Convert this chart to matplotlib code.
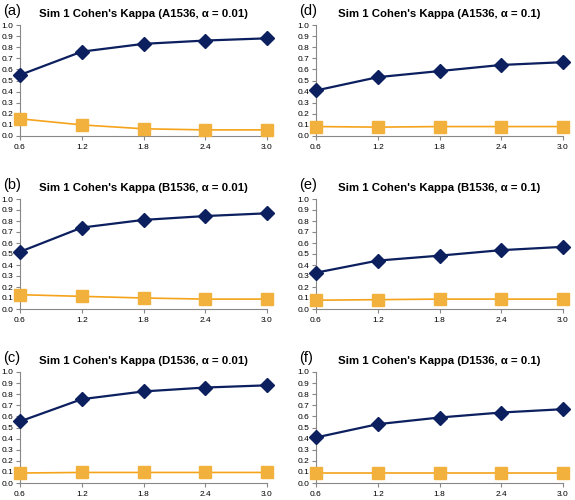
import matplotlib
matplotlib.use('Agg')
import matplotlib.pyplot as plt
import numpy as np

# x categories
xVals = [0.6, 1.2, 1.8, 2.4, 3.0]
xLabels = ['0.6', '1.2', '1.8', '2.4', '3.0']
yTicks = [0.0, 0.1, 0.2, 0.3, 0.4, 0.5, 0.6, 0.7, 0.8, 0.9, 1.0]

# series
blueA = [0.55, 0.76, 0.83, 0.86, 0.88]
orangeA = [0.155, 0.10, 0.065, 0.055, 0.055]
blueB = [0.52, 0.74, 0.81, 0.845, 0.87]
orangeB = [0.13, 0.115, 0.10, 0.09, 0.09]
blueC = [0.555, 0.755, 0.825, 0.86, 0.88]
orangeC = [0.09, 0.095, 0.095, 0.095, 0.095]
blueD = [0.41, 0.53, 0.585, 0.64, 0.665]
orangeD = [0.085, 0.08, 0.085, 0.085, 0.085]
blueE = [0.33, 0.44, 0.485, 0.535, 0.565]
orangeE = [0.08, 0.085, 0.09, 0.09, 0.09]
blueF = [0.41, 0.53, 0.59, 0.635, 0.665]
orangeF = [0.09, 0.09, 0.09, 0.09, 0.09]

panelLabels = ['(a)', '(b)', '(c)', '(d)', '(e)', '(f)']
titles = ["Sim 1 Cohen's Kappa (A1536, α = 0.01)",
          "Sim 1 Cohen's Kappa (B1536, α = 0.01)",
          "Sim 1 Cohen's Kappa (D1536, α = 0.01)",
          "Sim 1 Cohen's Kappa (A1536, α = 0.1)",
          "Sim 1 Cohen's Kappa (B1536, α = 0.1)",
          "Sim 1 Cohen's Kappa (D1536, α = 0.1)"]
blues = [blueA, blueB, blueC, blueD, blueE, blueF]
oranges = [orangeA, orangeB, orangeC, orangeD, orangeE, orangeF]

plt.rcParams['font.family'] = ['Liberation Sans', 'DejaVu Sans']

fig = plt.figure(figsize=(5.75, 5.0), dpi=100)

colLeft = [20 / 575, 316 / 575]
axW = 247 / 575
rowTop = [25, 199, 372]
rowBot = [136, 309, 483]

navy = '#0c1f5e'
orangeLine = '#f5a31a'
orangeMark = '#f2b13c'

for i in range(6):
    col = i // 3
    row = i % 3
    y0 = 1 - rowBot[row] / 500
    h = (rowBot[row] - rowTop[row]) / 500
    ax = fig.add_axes([colLeft[col], y0, axW, h])
    ax.plot(xVals, oranges[i], color=orangeLine, lw=1.2, marker='s', ms=8,
            mfc=orangeMark, mec=orangeMark, clip_on=False, zorder=3)
    ax.plot(xVals, blues[i], color=navy, lw=1.6, marker='D', ms=7,
            mfc=navy, mec=navy, clip_on=False, zorder=4)
    ax.set_xlim(0.6, 3.0)
    ax.set_ylim(0, 1.0)
    ax.set_xticks(xVals)
    ax.set_xticklabels(xLabels)
    ax.set_yticks(yTicks)
    ax.set_yticklabels(['%.1f' % v for v in yTicks])
    ax.tick_params(labelsize=6, length=3, width=0.8, color='#888888', pad=2)
    ax.tick_params(axis='x', pad=3)
    for s in ['top', 'right']:
        ax.spines[s].set_visible(False)
    for s in ['left', 'bottom']:
        ax.spines[s].set_color('#888888')
        ax.spines[s].set_linewidth(0.8)
    ax.set_title(titles[i], fontsize=8.2, fontweight='bold', pad=6)
    fig.text(colLeft[col] - 17 / 575, 1 - (rowTop[row] - 14) / 500,
             panelLabels[i], fontsize=10.5, va='center', ha='left')

fig.savefig('out.png', dpi=100)
